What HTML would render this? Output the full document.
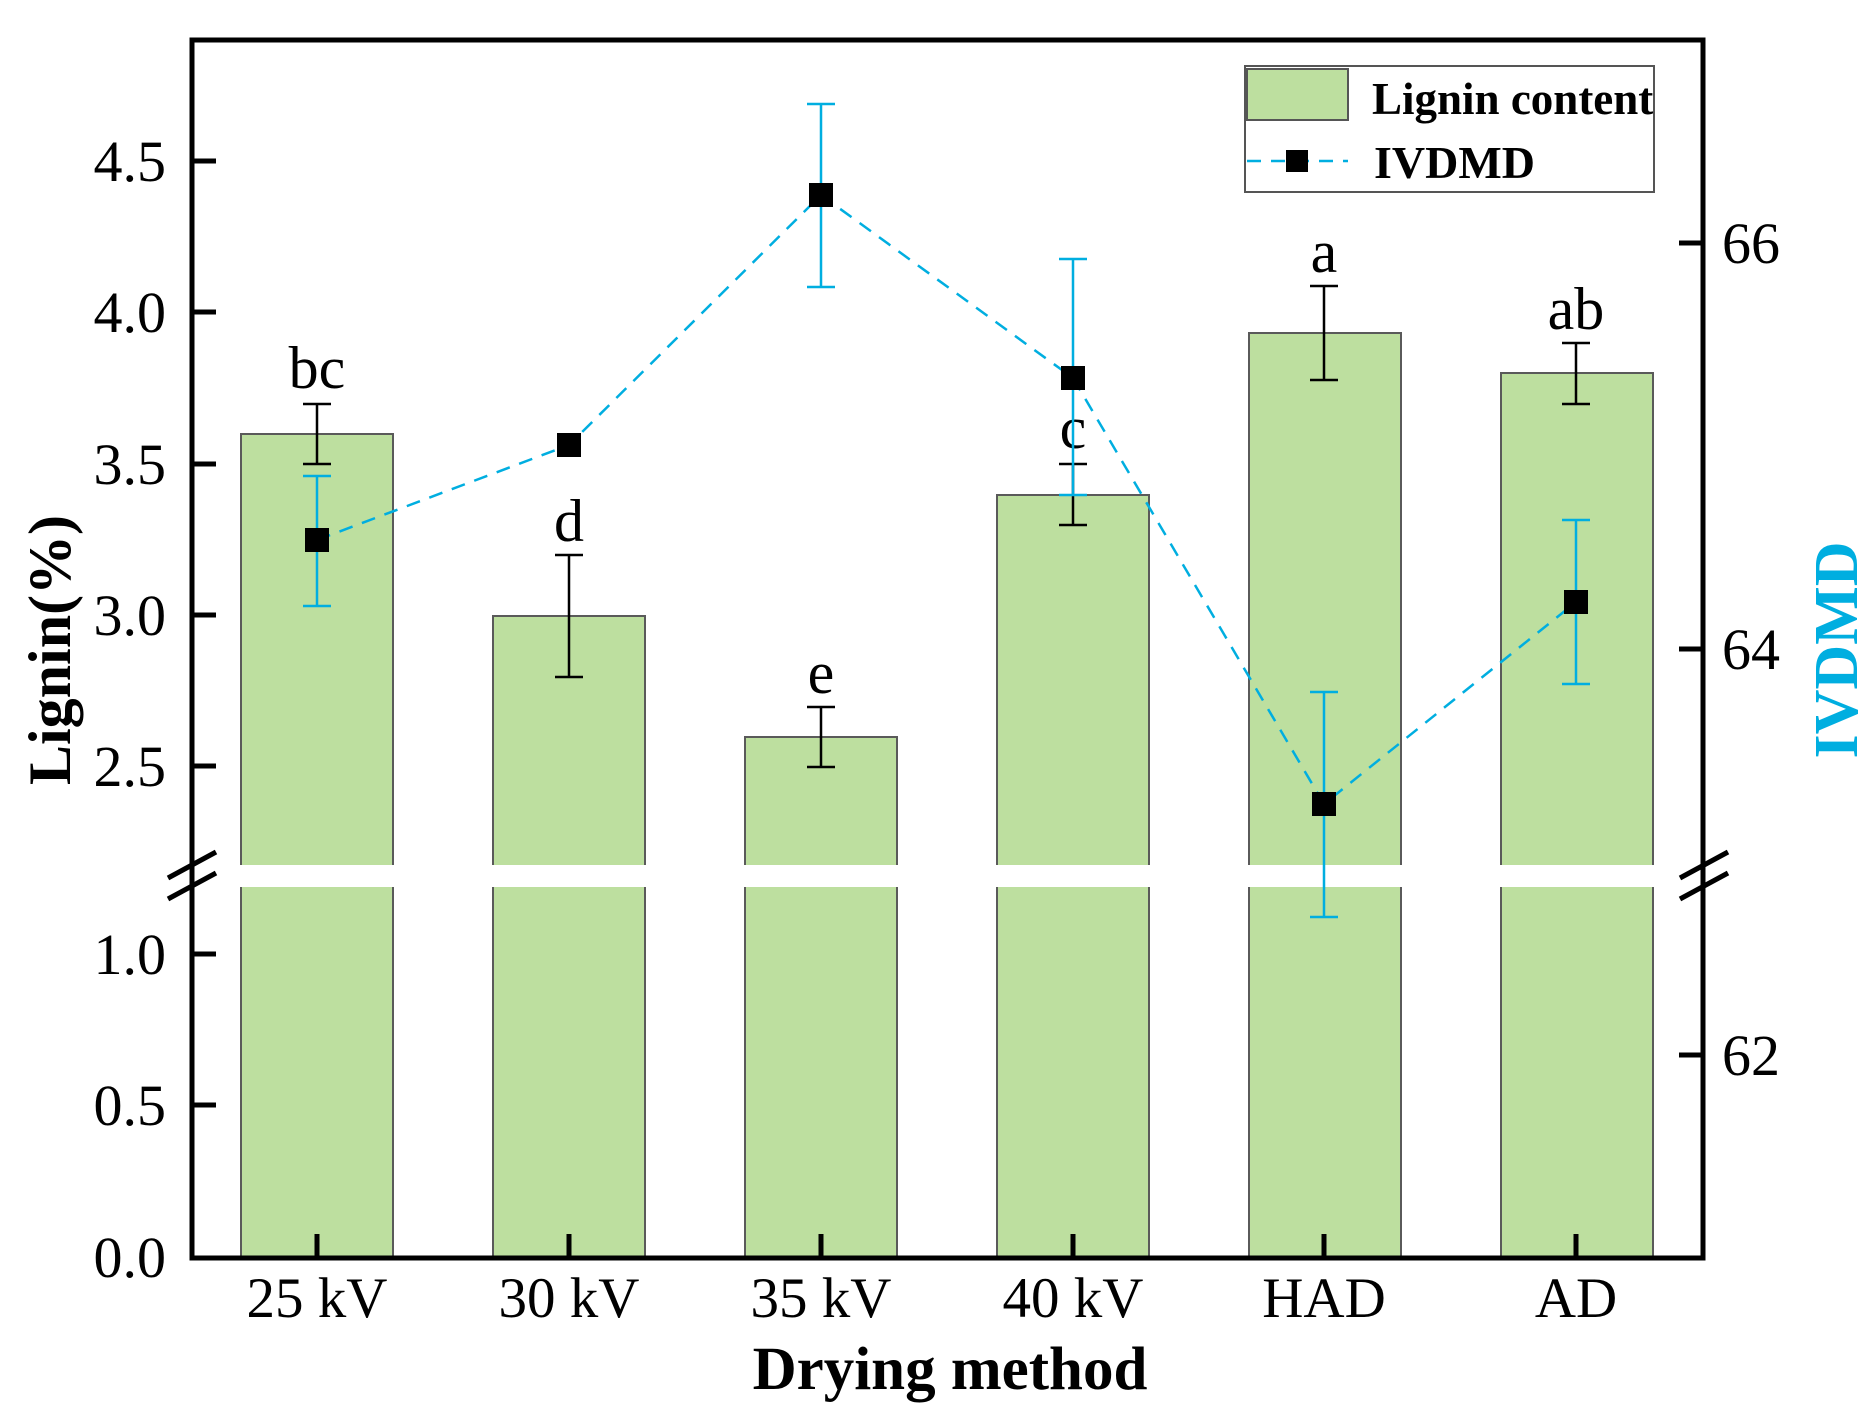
<!DOCTYPE html>
<html><head><meta charset="utf-8"><style>html,body{margin:0;padding:0;background:#fff}</style></head>
<body>
<svg width="1874" height="1417" viewBox="0 0 1874 1417" xmlns="http://www.w3.org/2000/svg" font-family="'Liberation Serif', serif">
<rect width="1874" height="1417" fill="#fff"/>
<g fill="#bddf9f" stroke="none">
<rect x="241" y="434" width="152" height="431"/><rect x="241" y="887" width="152" height="370"/>
<rect x="493" y="616" width="152" height="249"/><rect x="493" y="887" width="152" height="370"/>
<rect x="745" y="737" width="152" height="128"/><rect x="745" y="887" width="152" height="370"/>
<rect x="997" y="495" width="152" height="370"/><rect x="997" y="887" width="152" height="370"/>
<rect x="1249" y="333" width="152" height="532"/><rect x="1249" y="887" width="152" height="370"/>
<rect x="1501" y="373" width="152" height="492"/><rect x="1501" y="887" width="152" height="370"/>
</g>
<g fill="none" stroke="#5a5a5a" stroke-width="2">
<path d="M241 865V434H393V865M241 887V1257M393 887V1257"/>
<path d="M493 865V616H645V865M493 887V1257M645 887V1257"/>
<path d="M745 865V737H897V865M745 887V1257M897 887V1257"/>
<path d="M997 865V495H1149V865M997 887V1257M1149 887V1257"/>
<path d="M1249 865V333H1401V865M1249 887V1257M1401 887V1257"/>
<path d="M1501 865V373H1653V865M1501 887V1257M1653 887V1257"/>
</g>
<g stroke="#000" stroke-width="2.5" fill="none">
<path d="M317 404V464M303 404H331M303 464H331"/>
<path d="M569 555V677M555 555H583M555 677H583"/>
<path d="M821 707V767M807 707H835M807 767H835"/>
<path d="M1073 464V525M1059 464H1087M1059 525H1087"/>
<path d="M1324 286V380M1310 286H1338M1310 380H1338"/>
<path d="M1576 343V404M1562 343H1590M1562 404H1590"/>
</g>
<g font-size="60" text-anchor="middle" fill="#000">
<text x="317" y="388">bc</text><text x="569" y="541">d</text><text x="821" y="693">e</text>
<text x="1073" y="448">c</text><text x="1324" y="272">a</text><text x="1576" y="329">ab</text>
</g>
<polyline points="317,540 569,445 821,195 1073,378 1324,804 1576,602" fill="none" stroke="#00aee0" stroke-width="2.5" stroke-dasharray="14,10"/>
<g stroke="#00aee0" stroke-width="2.5" fill="none">
<path d="M317 476V606M303 476H331M303 606H331"/>
<path d="M821 104V287M807 104H835M807 287H835"/>
<path d="M1073 259V495M1059 259H1087M1059 495H1087"/>
<path d="M1324 692V917M1310 692H1338M1310 917H1338"/>
<path d="M1576 520V684M1562 520H1590M1562 684H1590"/>
</g>
<g fill="#000">
<rect x="305" y="528" width="24" height="24"/><rect x="557" y="433" width="24" height="24"/>
<rect x="809" y="183" width="24" height="24"/><rect x="1061" y="366" width="24" height="24"/>
<rect x="1312" y="792" width="24" height="24"/><rect x="1564" y="590" width="24" height="24"/>
</g>
<g stroke="#000" stroke-width="5" fill="none">
<rect x="192" y="40" width="1511" height="1218"/>
<path d="M192 161H216M192 312H216M192 464H216M192 615H216M192 766H216M192 954H216M192 1105H216"/>
<path d="M1703 243H1679M1703 649H1679M1703 1055H1679"/>
<path d="M317 1258V1234M569 1258V1234M821 1258V1234M1073 1258V1234M1324 1258V1234M1576 1258V1234"/>
<path d="M168 878L216 852M168 899L216 873M1680 878L1728 852M1680 899L1728 873"/>
</g>
<g font-size="58" text-anchor="end" fill="#000">
<text x="166" y="181">4.5</text><text x="166" y="332">4.0</text><text x="166" y="484">3.5</text>
<text x="166" y="635">3.0</text><text x="166" y="786">2.5</text><text x="166" y="974">1.0</text>
<text x="166" y="1125">0.5</text><text x="166" y="1277">0.0</text>
</g>
<g font-size="58" fill="#000">
<text x="1722" y="263">66</text><text x="1722" y="669">64</text><text x="1722" y="1075">62</text>
</g>
<g font-size="57" text-anchor="middle" fill="#000">
<text x="317" y="1317">25 kV</text><text x="569" y="1317">30 kV</text><text x="821" y="1317">35 kV</text>
<text x="1073" y="1317">40 kV</text><text x="1324" y="1317">HAD</text><text x="1576" y="1317">AD</text>
</g>
<text x="950" y="1389" font-size="61" font-weight="bold" text-anchor="middle">Drying method</text>
<text transform="translate(70,650) rotate(-90)" font-size="60" font-weight="bold" text-anchor="middle">Lignin(%)</text>
<text transform="translate(1857,650) rotate(-90)" font-size="62" font-weight="bold" fill="#00aee0" text-anchor="middle">IVDMD</text>
<rect x="1245" y="66" width="409" height="126" fill="#fff" stroke="#555" stroke-width="2"/>
<rect x="1247" y="69" width="101" height="51" fill="#bddf9f" stroke="#555" stroke-width="2"/>
<text x="1372" y="114" font-size="45" font-weight="bold">Lignin content</text>
<line x1="1247" y1="161" x2="1348" y2="161" stroke="#00aee0" stroke-width="2.5" stroke-dasharray="14,10"/>
<rect x="1286" y="150" width="22" height="22" fill="#000"/>
<text x="1374" y="178" font-size="46" font-weight="bold">IVDMD</text>
</svg>
</body></html>
